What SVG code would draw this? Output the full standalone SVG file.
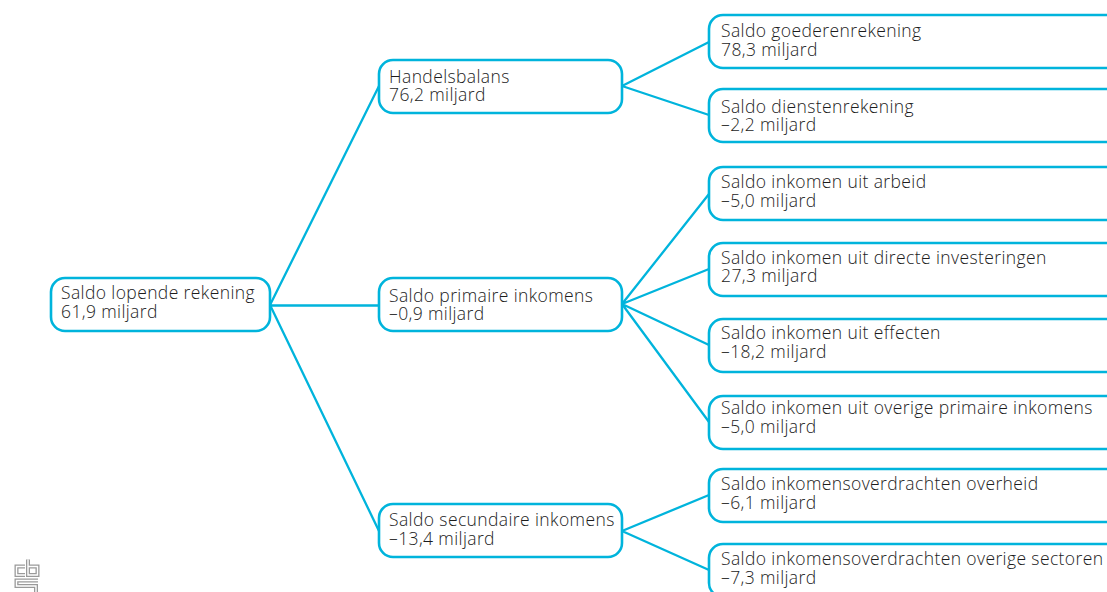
<svg xmlns="http://www.w3.org/2000/svg" width="1107" height="592" viewBox="0 0 1107 592">
<style>
.n{fill:#fff;stroke:#00b4dc;stroke-width:2.6}
.c{stroke:#00b4dc;stroke-width:2.3;fill:none}
.lo{fill:none;stroke:#9a9a9a;stroke-width:4}
.li{fill:none;stroke:#fff;stroke-width:1.4}
text{font-family:"Open Sans","Noto Sans",sans-serif;font-size:17.5px;font-weight:300;fill:#1c1c1c;letter-spacing:.39px}
</style>
<defs><path id="cbs" d="M25 566.500H16.500V575H25M28 559.500V575H37.500V566.500H28M38 580.500H16.500V586H36V592"/></defs>
<rect width="1107" height="592" fill="#fff"/>
<g id="logo"><use href="#cbs" class="lo"/><use href="#cbs" class="li"/></g>
<g id="connectors">
<path class="c" d="M270 305L379 86M270 305.500H379M270 305L379 531M622 86L709 42M622 86L709 115M622 304L709 194M622 304L709 269M622 304L709 345M622 304L709 422M622 531L709 495M622 531L709 570"/>
</g>
<g id="n0"><rect class="n" x="51" y="278" width="219" height="53" rx="14"/><text x="61" y="299">Saldo lopende rekening<tspan x="61" y="318">61,9 miljard</tspan></text></g>
<g id="n1"><rect class="n" x="379" y="60" width="243" height="53" rx="14"/><text x="389" y="83">Handelsbalans<tspan x="389" y="101">76,2 miljard</tspan></text></g>
<g id="n2"><rect class="n" x="379" y="278" width="243" height="53" rx="14"/><text x="389" y="302">Saldo primaire inkomens<tspan x="389" y="320">–0,9 miljard</tspan></text></g>
<g id="n3"><rect class="n" x="379" y="504" width="243" height="53" rx="14"/><text x="389" y="526">Saldo secundaire inkomens<tspan x="389" y="545">–13,4 miljard</tspan></text></g>
<g id="n4"><rect class="n" x="709" y="15" width="420" height="53" rx="14"/><text x="721" y="37">Saldo goederenrekening<tspan x="721" y="56">78,3 miljard</tspan></text></g>
<g id="n5"><rect class="n" x="709" y="89" width="420" height="53" rx="14"/><text x="721" y="113">Saldo dienstenrekening<tspan x="721" y="131">–2,2 miljard</tspan></text></g>
<g id="n6"><rect class="n" x="709" y="167" width="420" height="53" rx="14"/><text x="721" y="188">Saldo inkomen uit arbeid<tspan x="721" y="207">–5,0 miljard</tspan></text></g>
<g id="n7"><rect class="n" x="709" y="243" width="420" height="53" rx="14"/><text x="721" y="264">Saldo inkomen uit directe investeringen<tspan x="721" y="282">27,3 miljard</tspan></text></g>
<g id="n8"><rect class="n" x="709" y="319" width="420" height="53" rx="14"/><text x="721" y="339">Saldo inkomen uit effecten<tspan x="721" y="358">–18,2 miljard</tspan></text></g>
<g id="n9"><rect class="n" x="709" y="396" width="420" height="53" rx="14"/><text x="721" y="414">Saldo inkomen uit overige primaire inkomens<tspan x="721" y="433">–5,0 miljard</tspan></text></g>
<g id="n10"><rect class="n" x="709" y="469" width="420" height="53" rx="14"/><text x="721" y="490">Saldo inkomensoverdrachten overheid<tspan x="721" y="509">–6,1 miljard</tspan></text></g>
<g id="n11"><rect class="n" x="709" y="544" width="420" height="53" rx="14"/><text x="721" y="565">Saldo inkomensoverdrachten overige sectoren<tspan x="721" y="584">–7,3 miljard</tspan></text></g>
</svg>
